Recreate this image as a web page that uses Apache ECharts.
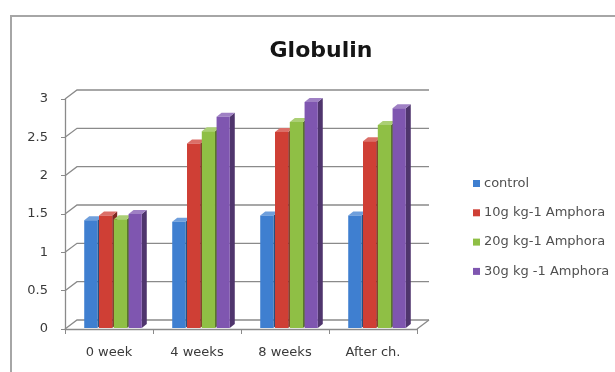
<!DOCTYPE html>
<html>
<head>
<meta charset="utf-8">
<script src="https://cdn.jsdelivr.net/npm/echarts@6/dist/echarts.min.js"></script>
<style>
  html, body { margin: 0; padding: 0; background: #fff; overflow: hidden; }
  #frame { position: absolute; left: 10px; top: 15px; width: 605px; height: 360px; border-left: 2px solid #a6a6a6; border-top: 2px solid #a6a6a6; box-sizing: border-box; }
  #chart { position: absolute; left: 0; top: 0; width: 615px; height: 372px; }
</style>
</head>
<body>
<div id="frame"></div>
<div id="chart"></div>
<script>
// Globulin levels by sampling time and Amphora dose
const categories = ['0 week', '4 weeks', '8 weeks', 'After ch.'];
const seriesNames = ['control', '10g kg-1 Amphora', '20g kg-1 Amphora', '30g kg -1 Amphora'];
const control = [1.42, 1.40, 1.48, 1.48];
const amphora10 = [1.48, 2.42, 2.57, 2.45];
const amphora20 = [1.43, 2.58, 2.70, 2.66];
const amphora30 = [1.50, 2.77, 2.96, 2.88];
const yTicks = [0, 0.5, 1, 1.5, 2, 2.5, 3];

const colors = ['#3f7fd0', '#cf3f35', '#8fbf45', '#7f56b0'];
const allValues = [control, amphora10, amphora20, amphora30];
const FONT = 'DejaVu Sans';

// depth of the back wall and of each bar
const WALL_DX = 12, WALL_DY = 9;
const BAR_DX = 5, BAR_DY = 4;

function shade(hex, f) {
  const n = parseInt(hex.slice(1), 16);
  const r = (n >> 16) & 255, g = (n >> 8) & 255, b = n & 255;
  const m = v => Math.max(0, Math.min(255, Math.round(f < 1 ? v * f : v + (255 - v) * (f - 1))));
  return 'rgb(' + m(r) + ',' + m(g) + ',' + m(b) + ')';
}

// back wall gridlines plus the diagonal link to the front axis
function wallItem(params, api) {
  const cs = params.coordSys;
  const y = api.coord([0, api.value(0)])[1];
  const pts = [[cs.x, y], [cs.x + WALL_DX, y - WALL_DY], [cs.x + cs.width + WALL_DX, y - WALL_DY]];
  const children = [{
    type: 'polyline', shape: { points: pts },
    style: { stroke: '#8a8a8a', lineWidth: 1.3, fill: null }
  }];
  if (api.value(0) === 0) {
    children.push({
      type: 'line',
      shape: { x1: cs.x + cs.width, y1: y, x2: cs.x + cs.width + WALL_DX, y2: y - WALL_DY },
      style: { stroke: '#8a8a8a', lineWidth: 1.3 }
    });
  }
  return { type: 'group', children: children };
}

function barRenderer(si) {
  return function (params, api) {
    const ci = api.value(0);
    const v = api.value(1);
    const top = api.coord([ci, v]);
    const base = api.coord([ci, 0]);
    const band = api.size([1, 0])[0];
    const pitch = band * 0.168;
    const w = band * 0.15;
    const x = top[0] + (si - 1.5) * pitch - w / 2 + 4;
    const yT = top[1], yB = base[1] - 1;
    const c = colors[si];
    return {
      type: 'group',
      children: [
        { type: 'polygon', shape: { points: [[x + w, yB], [x + w + BAR_DX, yB - BAR_DY], [x + w + BAR_DX, yT - BAR_DY], [x + w, yT]] },
          style: { fill: shade(c, 0.62) } },
        { type: 'polygon', shape: { points: [[x, yT], [x + BAR_DX, yT - BAR_DY], [x + w + BAR_DX, yT - BAR_DY], [x + w, yT]] },
          style: { fill: shade(c, 1.25) } },
        { type: 'rect', shape: { x: x, y: yT, width: w, height: yB - yT },
          style: { fill: c } }
      ]
    };
  };
}

const chart = echarts.init(document.getElementById('chart'), null, { renderer: 'canvas' });

const series = [{
  type: 'custom',
  name: 'wall',
  renderItem: wallItem,
  data: yTicks.map(t => [t]),
  encode: { y: 0 },
  silent: true,
  z: 1
}];
allValues.forEach((vals, si) => {
  series.push({
    type: 'custom',
    name: seriesNames[si],
    renderItem: barRenderer(si),
    data: vals.map((v, i) => [i, v]),
    encode: { x: 0, y: 1 },
    itemStyle: { color: colors[si] },
    z: 3 + si
  });
});

chart.setOption({
  animation: false,
  title: {
    text: 'Globulin',
    left: 316, top: 35, textAlign: 'center',
    textStyle: { fontFamily: FONT, fontSize: 22, fontWeight: 'bold', color: '#151515' }
  },
  legend: {
    orient: 'vertical',
    left: 468, top: 172,
    itemWidth: 7, itemHeight: 7, itemGap: 16.3,
    icon: 'rect',
    textStyle: { fontFamily: FONT, fontSize: 13, color: '#505050', padding: [0, 0, 0, -1] },
    data: seriesNames
  },
  grid: { left: 65, right: 198, top: 99, bottom: 43 },
  xAxis: {
    type: 'category',
    data: categories,
    axisLine: { lineStyle: { color: '#8a8a8a', width: 1.3 } },
    axisTick: { show: true, alignWithLabel: false, length: 5, lineStyle: { color: '#8a8a8a' } },
    axisLabel: { fontFamily: FONT, fontSize: 13, color: '#3a3a3a', margin: 17 },
    splitLine: { show: false }
  },
  yAxis: {
    type: 'value',
    min: 0, max: 3, interval: 0.5,
    axisLine: { show: true, lineStyle: { color: '#8a8a8a', width: 1.3 } },
    axisTick: { show: true, length: 4, lineStyle: { color: '#8a8a8a' } },
    axisLabel: { fontFamily: FONT, fontSize: 13, color: '#3a3a3a', margin: 17,
      formatter: v => String(v) },
    splitLine: { show: false }
  },
  series: series
});
</script>
</body>
</html>
